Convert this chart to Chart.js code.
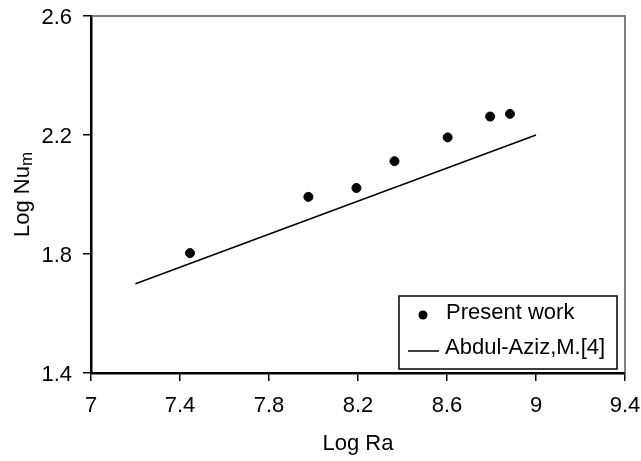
<!DOCTYPE html>
<html>
<head>
<meta charset="utf-8">
<script src="https://cdn.jsdelivr.net/npm/chart.js@4/dist/chart.umd.min.js"></script>
<style>
  html, body { margin: 0; padding: 0; background: #fff; }
  #wrap { width: 641px; height: 461px; }
</style>
</head>
<body>
<div id="wrap"><canvas id="c" width="641" height="461"></canvas></div>
<script>
// ---- data ----
const presentLogRa = [7.445, 7.977, 8.193, 8.364, 8.603, 8.794, 8.883];
const presentLogNu = [1.803, 1.992, 2.022, 2.112, 2.192, 2.262, 2.271];
const refLogRa = [7.2, 9.0];
const refLogNu = [1.7, 2.2];
const xTicks = [7, 7.4, 7.8, 8.2, 8.6, 9, 9.4];
const yTicks = [1.4, 1.8, 2.2, 2.6];
const seriesNames = ['Present work', 'Abdul-Aziz,M.[4]'];
const xTitle = 'Log Ra';
const yTitleMain = 'Log Nu';
const yTitleSub = 'm';

const FONT = "'Liberation Sans', Arial, sans-serif";
Chart.defaults.font.family = FONT;
Chart.defaults.color = '#000';

const frameAndLegend = {
  id: 'frameAndLegend',
  afterDraw(chart) {
    const ctx = chart.ctx, ca = chart.chartArea;
    ctx.save();
    // top and right frame lines
    ctx.strokeStyle = '#555';
    ctx.lineWidth = 1.5;
    ctx.beginPath();
    ctx.moveTo(ca.left, ca.top);
    ctx.lineTo(ca.right, ca.top);
    ctx.lineTo(ca.right, ca.bottom);
    ctx.stroke();

    // legend box (inside plot, lower right)
    const bx = ca.right - 226, by = ca.bottom - 77, bw = 218, bh = 73;
    ctx.fillStyle = '#fff';
    ctx.fillRect(bx, by, bw, bh);
    ctx.strokeStyle = '#000';
    ctx.lineWidth = 1.5;
    ctx.strokeRect(bx, by, bw, bh);
    ctx.fillStyle = '#000';
    ctx.beginPath();
    ctx.arc(bx + 24, by + 19, 4.5, 0, Math.PI * 2);
    ctx.fill();
    ctx.beginPath();
    ctx.lineWidth = 1.5;
    ctx.moveTo(bx + 9, by + 55);
    ctx.lineTo(bx + 40, by + 55);
    ctx.stroke();
    ctx.font = '22px ' + FONT;
    ctx.textBaseline = 'middle';
    ctx.textAlign = 'left';
    ctx.fillText(chart.data.datasets[0].label, bx + 47, by + 17);
    ctx.fillText(chart.data.datasets[1].label, bx + 46, by + 52);

    // y axis title with subscript
    const cy = (ca.top + ca.bottom) / 2;
    ctx.fillStyle = '#000';
    ctx.font = '22px ' + FONT;
    const w1 = ctx.measureText(yTitleMain).width;
    ctx.font = '17px ' + FONT;
    const w2 = ctx.measureText(yTitleSub).width;
    const total = w1 + w2;
    ctx.translate(28.5, cy);
    ctx.rotate(-Math.PI / 2);
    ctx.textBaseline = 'alphabetic';
    ctx.font = '22px ' + FONT;
    ctx.fillText(yTitleMain, -total / 2, 0);
    ctx.font = '17px ' + FONT;
    ctx.fillText(yTitleSub, -total / 2 + w1, 3);
    ctx.restore();
  }
};

const fmt = v => String(Number(v.toFixed(1)));
const zeroPad = s => { s.paddingTop = 0; s.paddingBottom = 0; s.paddingLeft = 0; s.paddingRight = 0; };

new Chart(document.getElementById('c'), {
  type: 'scatter',
  data: {
    datasets: [
      {
        label: seriesNames[0],
        data: presentLogRa.map((x, i) => ({ x, y: presentLogNu[i] })),
        backgroundColor: '#000',
        borderColor: '#000',
        pointRadius: 4.5,
        pointHoverRadius: 4.5,
        showLine: false
      },
      {
        label: seriesNames[1],
        data: refLogRa.map((x, i) => ({ x, y: refLogNu[i] })),
        borderColor: '#000',
        backgroundColor: '#000',
        borderWidth: 1.5,
        pointRadius: 0,
        showLine: true
      }
    ]
  },
  options: {
    responsive: false,
    animation: false,
    devicePixelRatio: 1,
    layout: { padding: { top: 16, right: 16, left: 0, bottom: 0 } },
    plugins: { legend: { display: false }, tooltip: { enabled: false } },
    scales: {
      x: {
        type: 'linear',
        min: xTicks[0],
        max: xTicks[xTicks.length - 1],
        afterBuildTicks: s => { s.ticks = xTicks.map(v => ({ value: v })); },
        afterFit: s => { s.height = 88; zeroPad(s); },
        grid: { drawOnChartArea: false, drawTicks: true, tickLength: 8, color: '#000', lineWidth: 1.5 },
        border: { color: '#000', width: 2.5 },
        ticks: { font: { size: 22 }, color: '#000', padding: 12, maxRotation: 0, autoSkip: false, callback: fmt },
        title: { display: true, text: xTitle, font: { size: 22 }, color: '#000', padding: { top: 0, bottom: 4 } }
      },
      y: {
        type: 'linear',
        min: yTicks[0],
        max: yTicks[yTicks.length - 1],
        afterBuildTicks: s => { s.ticks = yTicks.map(v => ({ value: v })); },
        afterFit: s => { s.width = 91; zeroPad(s); },
        grid: { drawOnChartArea: false, drawTicks: true, tickLength: 8, color: '#000', lineWidth: 1.5 },
        border: { color: '#000', width: 2.5 },
        ticks: { font: { size: 22 }, color: '#000', padding: 11, labelOffset: 2, autoSkip: false, callback: fmt },
        title: { display: false }
      }
    }
  },
  plugins: [frameAndLegend]
});
</script>
</body>
</html>
